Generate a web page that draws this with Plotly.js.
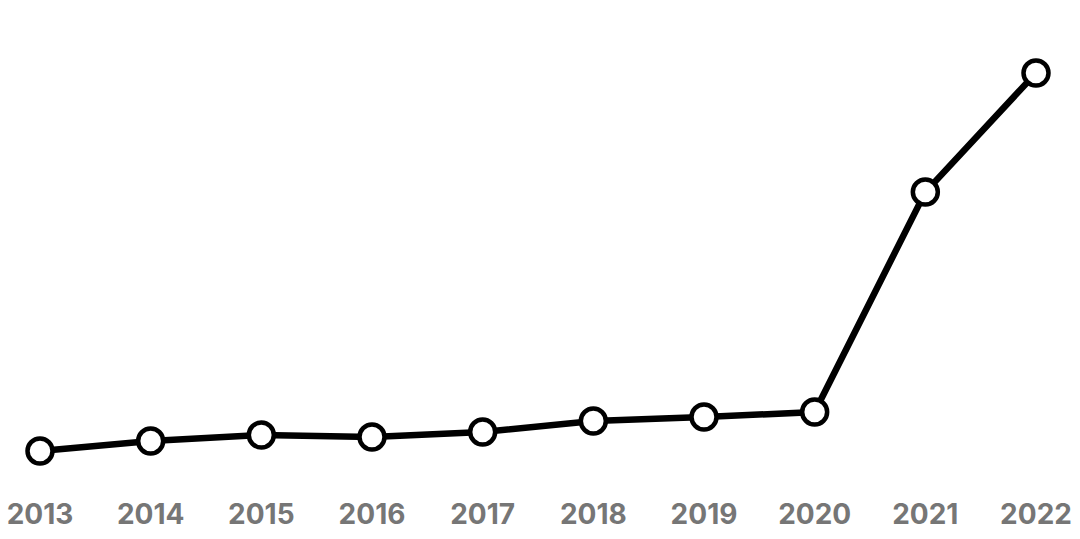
<!DOCTYPE html>
<html>
<head>
<meta charset="utf-8">
<script src="https://cdn.plot.ly/plotly-3.0.1.min.js"></script>
<style>
  html, body { margin: 0; padding: 0; background: #ffffff; }
  #chart { width: 1080px; height: 539px; }
</style>
</head>
<body>
<div id="chart"></div>
<script>
const years = [2013, 2014, 2015, 2016, 2017, 2018, 2019, 2020, 2021, 2022];
const values = [29, 39, 45, 43, 48, 59, 63, 68, 288, 407];
const tickLabels = years.map(String);

const trace = {
  x: years,
  y: values,
  type: 'scatter',
  mode: 'lines+markers',
  cliponaxis: false,
  line: { color: '#000000', width: 6.5 },
  marker: { size: 25, color: '#ffffff', line: { color: '#000000', width: 4.5 } },
  hoverinfo: 'skip'
};

const layout = {
  width: 1080,
  height: 539,
  margin: { l: 0, r: 0, t: 0, b: 59 },
  paper_bgcolor: '#ffffff',
  plot_bgcolor: '#ffffff',
  showlegend: false,
  xaxis: {
    range: [2012.6386, 2022.3976],
    tickmode: 'array',
    tickvals: years,
    ticktext: tickLabels,
    showgrid: false,
    zeroline: false,
    showline: false,
    ticks: '',
    ticklabelstandoff: 15,
    tickfont: { family: 'Inter, Roboto, sans-serif', size: 28, color: '#767676', weight: 'bold' },
    fixedrange: true
  },
  yaxis: {
    range: [0, 480],
    visible: false,
    showgrid: false,
    zeroline: false,
    fixedrange: true
  }
};

Plotly.newPlot('chart', [trace], layout, { displayModeBar: false, staticPlot: true });
</script>
</body>
</html>
